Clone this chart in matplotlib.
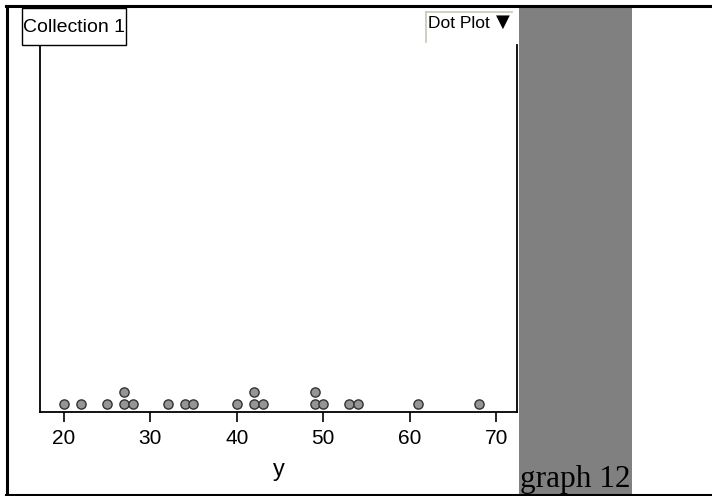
import matplotlib.pyplot as plt
from matplotlib.patches import Rectangle
from matplotlib.lines import Line2D

# values
y_values = [20, 22, 25, 27, 27, 28, 32, 34, 35, 40, 42, 42, 43, 49, 49, 50, 53, 54, 61, 68]
x_ticks = [20, 30, 40, 50, 60, 70]
x_label = 'y'
collection_name = 'Collection 1'
plot_type = 'Dot Plot'
caption = 'graph 12'

plt.rcParams['font.family'] = ['Liberation Sans', 'DejaVu Sans']

W, H = 712, 496
fig = plt.figure(figsize=(W / 100, H / 100), dpi=100)

def px(x0, y0, x1, y1):
    # pixel box (top-left origin) -> figure fraction rect
    return [x0 / W, 1 - y1 / H, (x1 - x0) / W, (y1 - y0) / H]

def hline(x0, x1, y, **kw):
    fig.lines.append(Line2D([x0 / W, x1 / W], [1 - y / H, 1 - y / H], transform=fig.transFigure, **kw))

def vline(x, y0, y1, **kw):
    fig.lines.append(Line2D([x / W, x / W], [1 - y0 / H, 1 - y1 / H], transform=fig.transFigure, **kw))

# stack repeated values
levels = []
seen = {}
for v in y_values:
    levels.append(seen.get(v, 0))
    seen[v] = seen.get(v, 0) + 1

ax = fig.add_axes(px(40, 45, 517, 412))
ax.scatter(y_values, levels, s=44, facecolor='#959595', edgecolor='#333333', linewidth=1.0, zorder=3, clip_on=False)
ax_h = 412 - 45
ax.set_ylim(-8 / 12, (ax_h - 8) / 12)
ax.set_xlim(17.26, 72.4)
ax.set_xticks(x_ticks)
ax.set_xticklabels([str(t) for t in x_ticks], fontsize=15)
ax.tick_params(axis='x', direction='out', length=7, width=1.2, pad=5)
ax.set_yticks([])
ax.spines['top'].set_visible(False)
for s in ['left', 'right', 'bottom']:
    ax.spines[s].set_linewidth(1.3)
ax.set_xlabel(x_label, fontsize=17, labelpad=8)

# grey band on the right
fig.patches.append(Rectangle((519 / W, 0), (632 - 519) / W, 1 - 7 / H, transform=fig.transFigure,
                             facecolor='#808080', edgecolor='none', zorder=0))

# outer frame (top, left, bottom)
hline(6, W, 6, color='black', lw=2.2)
vline(7, 6, 495, color='black', lw=2.2)
hline(6, W, 494.5, color='black', lw=2.2)

# collection label box
fig.patches.append(Rectangle((22 / W, 1 - 45 / H), (126 - 22) / W, (45 - 8) / H, transform=fig.transFigure,
                             facecolor='white', edgecolor='black', linewidth=1.0, zorder=5))
fig.text(74 / W, 1 - 27 / H, collection_name, ha='center', va='center', fontsize=14, zorder=6)

# dot plot menu
vline(426, 12, 42, color='#c8c8b8', lw=1.2)
hline(426, 512, 12, color='#c8c8b8', lw=1.2)
fig.text(428 / W, 1 - 23 / H, plot_type, ha='left', va='center', fontsize=12.5)
fig.text(510 / W, 1 - 22 / H, '\u25bc', ha='right', va='center', fontsize=13, family=['DejaVu Sans'])

# caption
fig.text(520 / W, 1 - 487 / H, caption, ha='left', va='baseline', fontsize=22.5, family=['Liberation Serif', 'DejaVu Serif'])

fig.savefig('out.png', dpi=100)
